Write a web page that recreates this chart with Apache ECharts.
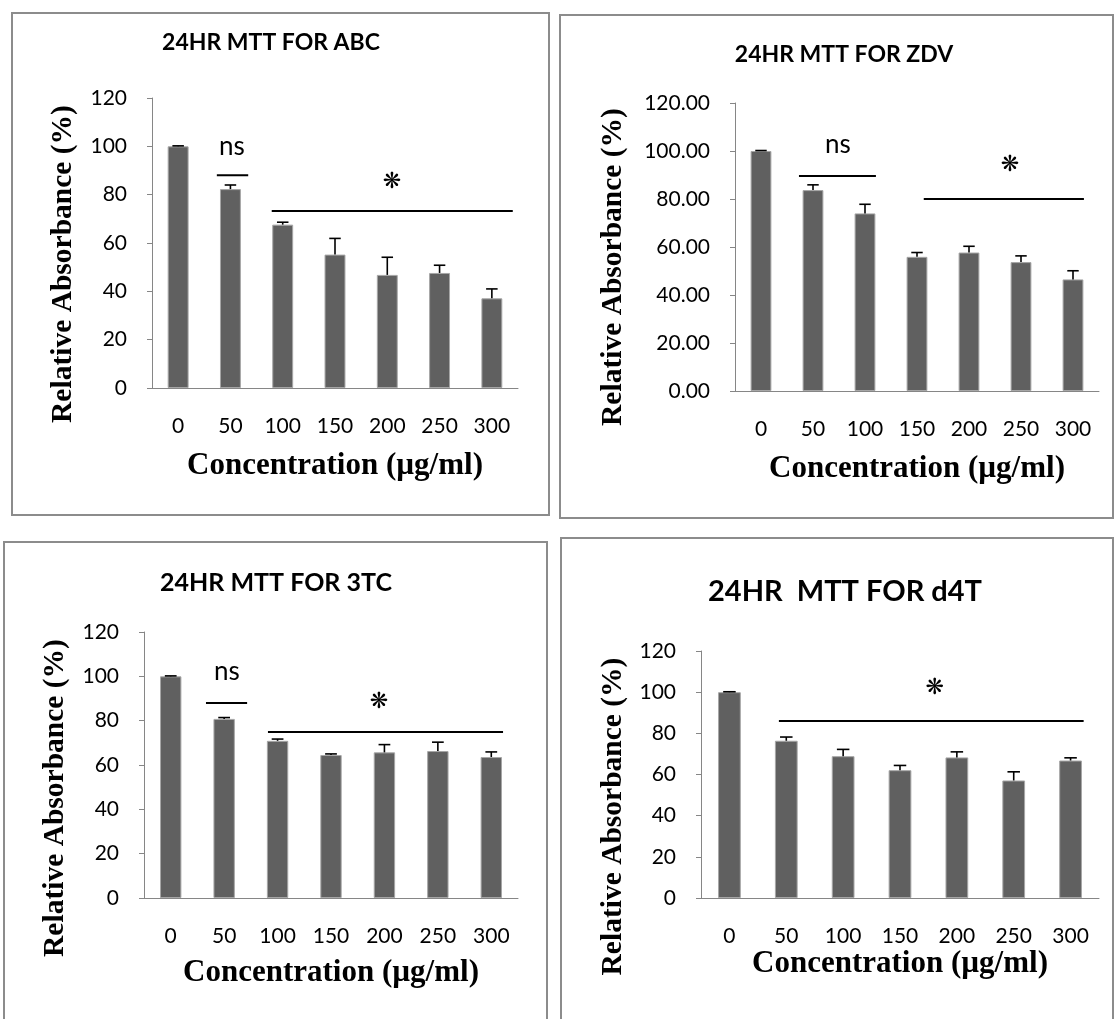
<!DOCTYPE html>
<html>
<head>
<meta charset="utf-8">
<title>24HR MTT</title>
<script src="https://cdn.jsdelivr.net/npm/echarts@6/dist/echarts.min.js"></script>
<style>
    html, body { margin: 0; padding: 0; background: #fff; }
    #chart { width: 1116px; height: 1019px; }
</style>
</head>
<body>
<div id="chart"></div>
<script>
// categories (concentration, µg/ml)
const concentrations = ["0", "50", "100", "150", "200", "250", "300"];

// mean relative absorbance (%) and upper error
const abcMean = [100, 82.3, 67.6, 55.2, 46.8, 47.6, 37.1];
const abcErr = [0.2, 1.7, 1.0, 6.7, 7.3, 3.2, 3.9];
const zdvMean = [100, 83.7, 74.0, 55.9, 57.7, 53.7, 46.5];
const zdvErr = [0.2, 2.2, 3.8, 1.8, 2.6, 2.6, 3.6];
const tcMean = [100, 80.8, 70.9, 64.5, 65.7, 66.3, 63.6];
const tcErr = [0.2, 0.6, 0.8, 0.5, 3.5, 4.0, 2.3];
const d4tMean = [100, 76.4, 68.9, 62.1, 68.3, 57.1, 66.8];
const d4tErr = [0.2, 1.8, 3.3, 2.3, 2.7, 4.2, 1.3];

// significance bars: [fromX, toX, y] in category-index units
const abcSigLines = [[0.74, 1.34, 88], [1.79, 6.4, 73.2]];
const zdvSigLines = [[0.73, 2.21, 89.6], [3.13, 6.21, 80]];
const tcSigLines = [[0.66, 1.43, 88], [1.82, 6.22, 74.9]];
const d4tSigLines = [[0.87, 6.23, 86]];

// significance marks: [x, y, text]
const abcSigMarks = [[1.03, 99.7, "ns"], [4.09, 85.2, "❋"]];
const zdvSigMarks = [[1.48, 102.5, "ns"], [4.79, 94.2, "❋"]];
const tcSigMarks = [[1.05, 102, "ns"], [3.9, 88.1, "❋"]];
const d4tSigMarks = [[3.61, 102, "❋"]];

const panels = [
    { title: "24HR MTT FOR ABC", titleSize: 23, tx: 271, ty: 43, mean: abcMean, err: abcErr, lines: abcSigLines, marks: abcSigMarks,
      grid: { left: 152, top: 98, width: 366, height: 290 }, box: [12, 13, 537, 502], yDigits: 0, yGap: 74, yShift: 42, xGap: 62 },
    { title: "24HR MTT FOR ZDV", titleSize: 23, tx: 844, ty: 55, mean: zdvMean, err: zdvErr, lines: zdvSigLines, marks: zdvSigMarks,
      grid: { left: 735, top: 103, width: 364, height: 288 }, box: [560, 15, 553, 503], yDigits: 2, yGap: 107, yShift: 40, xGap: 62 },
    { title: "24HR MTT FOR 3TC", titleSize: 25, tx: 276, ty: 583, mean: tcMean, err: tcErr, lines: tcSigLines, marks: tcSigMarks,
      grid: { left: 144, top: 632, width: 374, height: 266 }, box: [4, 542, 543, 500], yDigits: 0, yGap: 74, yShift: 66, xGap: 59 },
    { title: "24HR  MTT FOR d4T", titleSize: 29, tx: 845, ty: 592, mean: d4tMean, err: d4tErr, lines: d4tSigLines, marks: d4tSigMarks,
      grid: { left: 701, top: 651, width: 398, height: 247 }, box: [561, 538, 552, 500], yDigits: 0, yGap: 73, yShift: 84, xGap: 50 },
];

const axisGrey = "#868686";
const barGrey = "#606060";
const tickFont = "Lato";
const nameFont = "Liberation Serif";

const chart = echarts.init(document.getElementById("chart"));

const option = {
    backgroundColor: "#fff",
    animation: false,
    title: [],
    grid: [],
    xAxis: [],
    yAxis: [],
    series: [],
    graphic: [],
};

panels.forEach((p, i) => {
    // panel frame
    option.graphic.push({
        type: "rect",
        shape: { x: p.box[0], y: p.box[1], width: p.box[2], height: p.box[3] },
        style: { fill: "none", stroke: "#8c8c8c", lineWidth: 2 },
        z: 0,
    });

    option.title.push({
        text: p.title,
        left: p.tx,
        top: p.ty - p.titleSize / 2,
        textAlign: "center",
        padding: 0,
        textStyle: { fontFamily: tickFont, fontWeight: "bold", fontSize: p.titleSize, color: "#000" },
    });

    option.grid.push(Object.assign({ containLabel: false }, p.grid));

    // category axis for the bars
    option.xAxis.push({
        type: "category",
        gridIndex: i,
        data: concentrations,
        name: "Concentration (µg/ml)",
        nameLocation: "middle",
        nameGap: p.xGap,
        nameTextStyle: { fontFamily: nameFont, fontWeight: "bold", fontSize: 31, color: "#000" },
        axisLine: { onZero: false, lineStyle: { color: axisGrey, width: 1 } },
        axisTick: { show: false },
        axisLabel: { interval: 0, margin: 28, fontFamily: tickFont, fontSize: 21, color: "#000" },
    });
    // hidden value axis for the significance marks
    option.xAxis.push({
        type: "value",
        gridIndex: i,
        min: -0.5,
        max: 6.5,
        show: false,
    });

    option.yAxis.push({
        type: "value",
        gridIndex: i,
        min: 0,
        max: 120,
        interval: 20,
        name: "Relative Absorbance (%)",
        nameLocation: "middle",
        nameGap: p.yGap,
        nameRotate: 90,
        nameTextStyle: { fontFamily: nameFont, fontWeight: "bold", fontSize: 29.5, color: "#000", padding: [0, p.yShift, 0, 0] },
        axisLine: { show: true, onZero: false, lineStyle: { color: axisGrey, width: 1 } },
        axisTick: { show: true, inside: false, length: 5, lineStyle: { color: axisGrey } },
        splitLine: { show: false },
        axisLabel: {
            margin: 25,
            fontFamily: tickFont,
            fontSize: 21,
            color: "#000",
            formatter: (v) => v.toFixed(p.yDigits),
        },
    });

    const catAxis = i * 2;
    const valAxis = i * 2 + 1;

    option.series.push({
        type: "bar",
        xAxisIndex: catAxis,
        yAxisIndex: i,
        data: p.mean,
        barWidth: "40%",
        itemStyle: { color: barGrey, borderColor: "#a6a6a6", borderWidth: 1 },
        z: 2,
    });

    // upper error bars, one per bar
    option.series.push({
        type: "custom",
        xAxisIndex: catAxis,
        yAxisIndex: i,
        data: p.mean,
        z: 3,
        renderItem: (params, api) => {
            const k = params.dataIndex;
            const m = p.mean[k];
            const e = p.err[k];
            const base = api.coord([k, m]);
            const top = api.coord([k, m + e]);
            const half = api.size([1, 0])[0] * 0.11;
            const st = { stroke: "#000", lineWidth: 1.6 };
            return {
                type: "group",
                children: [
                    { type: "line", shape: { x1: base[0], y1: base[1], x2: top[0], y2: top[1] }, style: st },
                    { type: "line", shape: { x1: top[0] - half, y1: top[1], x2: top[0] + half, y2: top[1] }, style: st },
                ],
            };
        },
    });

    // significance bars
    option.series.push({
        type: "custom",
        xAxisIndex: valAxis,
        yAxisIndex: i,
        data: p.lines.map((l) => [l[0], l[2]]),
        z: 4,
        renderItem: (params, api) => {
            const l = p.lines[params.dataIndex];
            const a = api.coord([l[0], l[2]]);
            const b = api.coord([l[1], l[2]]);
            return {
                type: "line",
                shape: { x1: a[0], y1: a[1], x2: b[0], y2: b[1] },
                style: { stroke: "#000", lineWidth: 2 },
            };
        },
    });

    // significance text
    option.series.push({
        type: "custom",
        xAxisIndex: valAxis,
        yAxisIndex: i,
        data: p.marks.map((mk) => [mk[0], mk[1]]),
        z: 4,
        renderItem: (params, api) => {
            const mk = p.marks[params.dataIndex];
            const pt = api.coord([mk[0], mk[1]]);
            const isStar = mk[2] !== "ns";
            return {
                type: "text",
                x: pt[0],
                y: pt[1],
                style: {
                    text: mk[2],
                    align: "center",
                    verticalAlign: "middle",
                    fontFamily: isStar ? "DejaVu Sans" : tickFont,
                    fontSize: isStar ? 22 : 26,
                    fill: "#000",
                },
            };
        },
    });
});

chart.setOption(option);
window.addEventListener("resize", () => chart.resize());
</script>
</body>
</html>
